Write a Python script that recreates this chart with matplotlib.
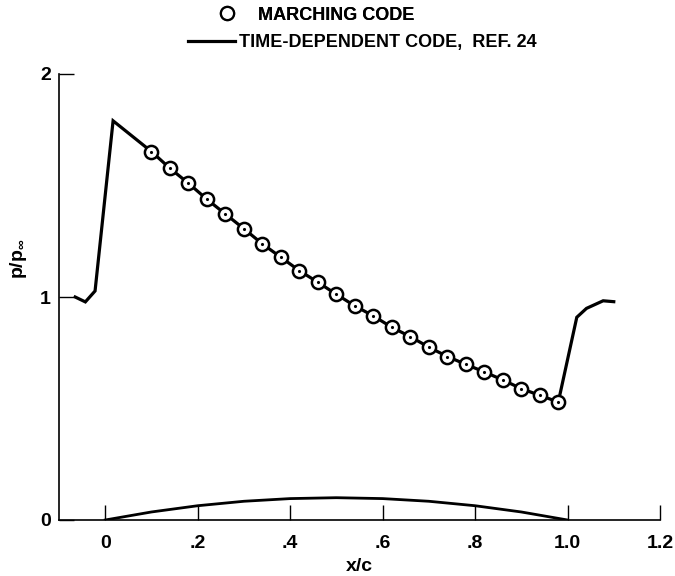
import numpy as np
import matplotlib
matplotlib.use('Agg')
import matplotlib.pyplot as plt
from matplotlib.lines import Line2D

plt.rcParams['font.family'] = ['Liberation Sans Narrow', 'Liberation Sans', 'DejaVu Sans']
plt.rcParams['font.weight'] = 'bold'
plt.rcParams['mathtext.fontset'] = 'custom'
plt.rcParams['mathtext.rm'] = 'Liberation Sans:bold'
plt.rcParams['mathtext.bf'] = 'Liberation Sans:bold'

# marching code results (circles)
x_march = [0.10, 0.14, 0.18, 0.22, 0.26, 0.30, 0.34, 0.38, 0.42, 0.46, 0.50, 0.54,
           0.58, 0.62, 0.66, 0.70, 0.74, 0.78, 0.82, 0.86, 0.90, 0.94, 0.98]
p_march = [1.652, 1.577, 1.510, 1.438, 1.372, 1.306, 1.238, 1.178, 1.118, 1.066, 1.012, 0.960,
           0.915, 0.864, 0.822, 0.775, 0.733, 0.698, 0.664, 0.628, 0.589, 0.559, 0.529]

# time-dependent code, ref. 24 (solid line)
x_td = [-0.065, -0.043, -0.022, 0.017] + x_march + [1.020, 1.041, 1.077, 1.100]
p_td = [1.000, 0.978, 1.027, 1.790] + p_march + [0.909, 0.949, 0.983, 0.979]

# airfoil upper surface
x_foil = [0.0, 0.1, 0.2, 0.3, 0.4, 0.5, 0.6, 0.7, 0.8, 0.9, 1.0]
y_foil = [0.0, 0.036, 0.064, 0.084, 0.096, 0.100, 0.096, 0.084, 0.064, 0.036, 0.0]

xticks = [0, 0.2, 0.4, 0.6, 0.8, 1.0, 1.2]
xtick_labels = ['0', '.2', '.4', '.6', '.8', '1.0', '1.2']
yticks = [0, 1, 2]

fig = plt.figure(figsize=(6.75, 5.76), dpi=100)
ax = fig.add_axes([59/675, 1-520/576, (660-59)/675, (520-74)/576])

ax.plot(x_td, p_td, color='black', lw=2.3, solid_joinstyle='miter')
ax.plot(x_foil, y_foil, color='black', lw=2.0)
ax.plot(x_march, p_march, 'o', ms=9.5, mfc='white', mec='black', mew=1.8)
ax.plot(x_march, p_march, '.', ms=2.5, color='black')

ax.set_xlim(-0.1, 1.2)
ax.set_ylim(0, 2)
ax.set_xticks(xticks)
ax.set_xticklabels(xtick_labels)
ax.set_yticks(yticks)
ax.tick_params(direction='in', length=11, width=1.0, labelsize=14, pad=11)
ax.tick_params(axis='y', pad=6)
for s in ['top', 'right']:
    ax.spines[s].set_visible(False)
for s in ['left', 'bottom']:
    ax.spines[s].set_linewidth(1.2)

ax.set_xlabel('x/c', fontsize=14, fontweight='bold', labelpad=4)
ax.set_ylabel(r'p/p$_\mathbf{\infty}$', fontsize=14, fontweight='bold')
ax.yaxis.set_label_coords(-0.05, 0.585)

# key
h1 = Line2D([], [], ls='none', marker='o', ms=9.5, mfc='white', mec='black', mew=1.6)
h2 = Line2D([], [], color='black', lw=2.3)
leg1 = fig.legend([h1], ['MARCHING CODE'], loc='center left', frameon=False,
                  bbox_to_anchor=(218/675, 1-15/576), borderpad=0, borderaxespad=0,
                  handlelength=1.0, handletextpad=1.2, prop={'size': 13, 'weight': 'bold'})
fig.legend([h2], ['TIME-DEPENDENT CODE,  REF. 24'], loc='center left', frameon=False,
           bbox_to_anchor=(188/675, 1-43/576), borderpad=0, borderaxespad=0,
           handlelength=2.6, handletextpad=0.2, prop={'size': 13, 'weight': 'bold'})
fig.add_artist(leg1)

fig.savefig('out.png', dpi=100)
